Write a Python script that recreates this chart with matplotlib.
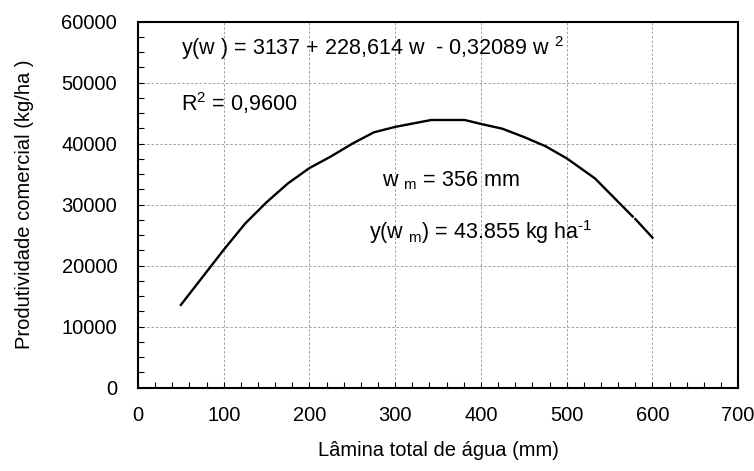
import numpy as np
import matplotlib.pyplot as plt
from matplotlib.ticker import MultipleLocator

plt.rcParams['font.family'] = 'Liberation Sans'
plt.rcParams['mathtext.fontset'] = 'custom'
plt.rcParams['mathtext.rm'] = 'Liberation Sans'
plt.rcParams['mathtext.it'] = 'Liberation Sans'

# fitted yield curve (water depth in mm, yield in kg/ha)
lamina = [50, 100, 125, 150, 175, 200, 225, 250, 275, 300, 342, 381, 400,
          425, 450, 475, 500, 533, 577, np.nan, 580, 600]
produtividade = [13560, 22600, 26900, 30400, 33500, 36000, 37900, 40000, 41850,
                 42750, 43880, 43880, 43230, 42450, 41100, 39600, 37600, 34300,
                 28050, np.nan, 27650, 24600]

fig = plt.figure(figsize=(7.54, 4.71), dpi=100)
ax = fig.add_axes([0.183, 0.177, 0.796, 0.777])

ax.plot(lamina, produtividade, color='black', lw=1.7)

ax.set_xlim(0, 700)
ax.set_ylim(0, 60000)
ax.xaxis.set_major_locator(MultipleLocator(100))
ax.xaxis.set_minor_locator(MultipleLocator(20))
ax.yaxis.set_major_locator(MultipleLocator(10000))
ax.yaxis.set_minor_locator(MultipleLocator(2500))
ax.tick_params(which='both', direction='in', length=4, width=0.8, labelsize=14.5)
ax.tick_params(axis='x', pad=13)
ax.tick_params(axis='y', pad=15)
ax.grid(True, which='major', color='#a0a0a0', ls=(0, (2.5, 2)), lw=0.7)
for s in ax.spines.values():
    s.set_linewidth(1.5)

ax.set_xlabel('Lâmina total de água (mm)', fontsize=14.5, labelpad=12)
ax.set_ylabel('Produtividade comercial (kg/ha )', fontsize=14.5, labelpad=20)

fs = 15.5
ax.text(50, 55700, r'y(w ) = 3137 + 228,614 w  - 0,32089 w $^{2}$', fontsize=fs, va='center')
ax.text(50, 46700, r'R$^{2}$ = 0,9600', fontsize=fs, va='center')
ax.text(285, 34000, r'w$\ _{m}$ = 356 mm', fontsize=fs, va='center')
ax.text(269, 25500, r'y(w$\ _{m}$) = 43.855 kg ha$^{\text{-1}}$', fontsize=fs, va='center')

fig.savefig('out.png', dpi=100)
